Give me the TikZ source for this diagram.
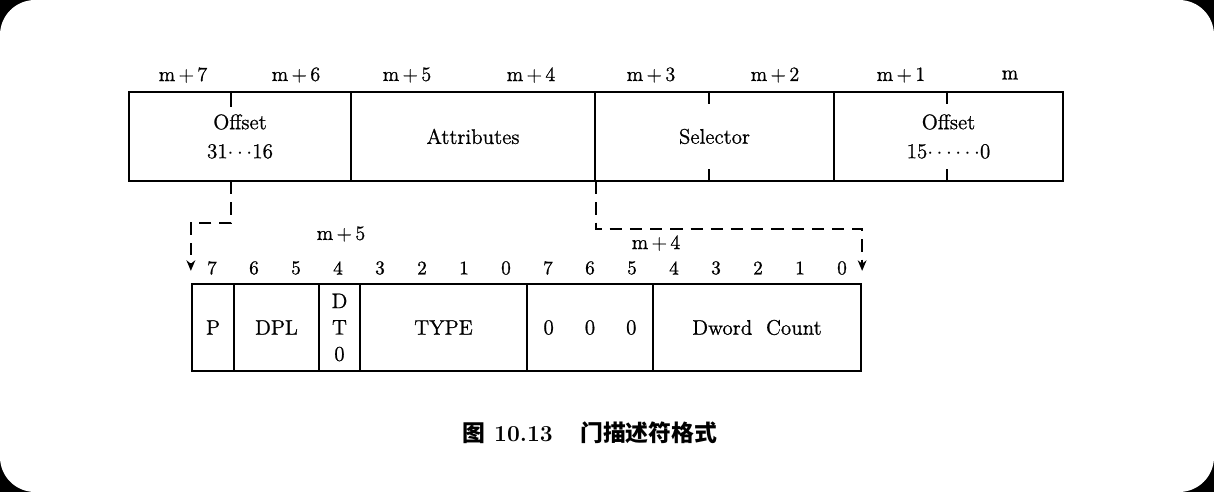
\documentclass[tikz,border=0pt]{standalone}
\usepackage{fontspec}
\newfontfamily\scanfont{Latin Modern Roman}[FakeBold=0.9]
\newfontfamily\cjk{Noto Sans CJK SC}
\usetikzlibrary{positioning,calc,arrows.meta}

\begin{document}
\begin{tikzpicture}[
            x=0.02cm, y=-0.02cm,
            field/.style={rectangle, draw, line width=1.3pt, inner sep=0pt, minimum height=1.78cm, align=center, font=\scanfont\fontsize{12}{16.5}\selectfont},
            bitfield/.style={field, minimum height=1.74cm},
            byte/.style={font=\scanfont\fontsize{11.5}{14}\selectfont},
            bit/.style={font=\scanfont\fontsize{11}{13}\selectfont},
            tick/.style={line width=1.3pt},
            link/.style={line width=1.1pt, dash pattern=on 7pt off 4.5pt, -{Stealth[length=6pt,width=5pt]}}
        ]
            % card
            \fill[black] (0,0) rectangle (1214,492);
            \fill[white, rounded corners=0.7cm] (0,0) rectangle (1214,492);

            % descriptor, 8 bytes
            \node[field, minimum width=4.44cm] (offhi) at (240,136.5) {Offset\\31$\cdots$16};
            \node[field, minimum width=4.88cm] (attr) at (473,136.5) {Attributes};
            \node[field, minimum width=4.78cm] (sel) at (714.5,136.5) {Selector};
            \node[field, minimum width=4.58cm] (offlo) at (948.5,136.5) {Offset\\15$\cdots\cdots$0};

            \draw[tick] ($(offhi.north west)+(103,0)$) -- ++(0,16);
            \draw[tick] ($(sel.north west)+(115,0)$) -- ++(0,13);
            \draw[tick] ($(sel.south west)+(115,0)$) -- ++(0,-13);
            \draw[tick] ($(offlo.north west)+(114,0)$) -- ++(0,13);
            \draw[tick] ($(offlo.south west)+(114,0)$) -- ++(0,-13);

            \foreach \t/\x [count=\i] in {m\,+\,7/183, m\,+\,6/296, m\,+\,5/407, m\,+\,4/531, m\,+\,3/651, m\,+\,2/775, m\,+\,1/901, m/1010}
                \node[byte] (byte\i) at (\x,75) {\t};

            % attribute bytes m+5, m+4
            \node[bitfield, minimum width=0.84cm] (pbit) at (213,327.5) {P};
            \node[bitfield, minimum width=1.70cm] (dpl) at (276.5,327.5) {DPL};
            \node[bitfield, minimum width=0.82cm, font=\scanfont\fontsize{12}{15}\selectfont] (dt) at (339.5,327.5) {D\\T\\0};
            \node[bitfield, minimum width=3.34cm] (type) at (443.5,327.5) {TYPE};
            \node[bitfield, minimum width=2.52cm] (zero) at (590,327.5) {0\hspace{0.62cm}0\hspace{0.62cm}0};
            \node[bitfield, minimum width=4.16cm] (count) at (757,327.5) {Dword\ \ Count};

            \foreach \b [count=\i from 0] in {7,6,5,4,3,2,1,0,7,6,5,4,3,2,1,0}
                \node[bit] (bit\i) at (212+42*\i,268) {\b};

            \node[byte] (lbl5) at (341,234) {m\,+\,5};
            \node[byte] (lbl4) at (656,243) {m\,+\,4};

            \draw[link] ($(offhi.south west)+(103,0)$) -- ++(0,41) -| ($(pbit.north west)+(0,-12)$);
            \draw[link] (attr.south east) -- ++(0,47) -| ($(count.north east)+(0,-12)$);

            % caption
            \node[font=\fontsize{13}{15}\selectfont\bfseries] (caption) at (590,433) {{\cjk 图} 10.13\hspace{1.2em}{\cjk 门描述符格式}};
        \end{tikzpicture}
\end{document}
